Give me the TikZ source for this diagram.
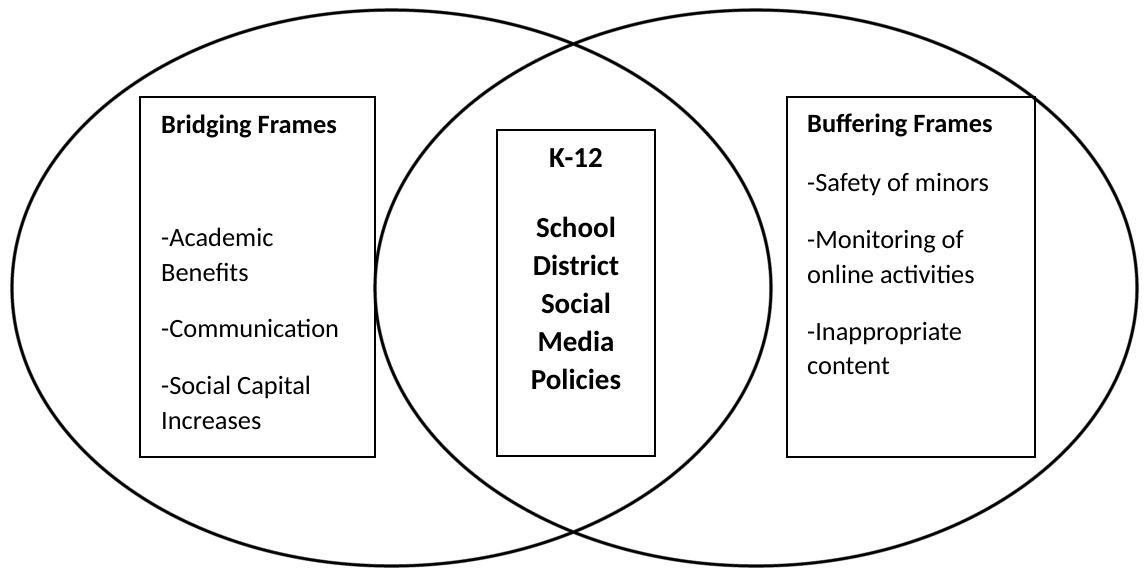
\documentclass[tikz,border=0pt]{standalone}
\usepackage{fontspec}
\setmainfont{Carlito}
\usetikzlibrary{shapes.geometric}
\begin{document}
\begin{tikzpicture}[x=1pt,y=-1pt,
  setring/.style={ellipse, draw=black, line width=2.4pt, inner sep=0pt, outer sep=0pt},
  setcore/.style={ellipse, draw=black!55, line width=3.6pt, inner sep=0pt, outer sep=0pt},
  framebox/.style={rectangle, draw=black, line width=1.4pt, inner sep=0pt, outer sep=0pt},
  item/.style={anchor=base west, inner sep=0pt, font=\fontsize{26.4}{34}\selectfont},
  head/.style={item, font=\fontsize{26.4}{34}\selectfont\bfseries},
  core/.style={anchor=base, inner sep=0pt, font=\fontsize{29}{38}\selectfont\bfseries}]
  \useasboundingbox (0,0) rectangle (1144,571);
  % the two overlapping sets (soft grey halo under a black stroke)
  \node[setcore, minimum width=759pt, minimum height=556pt] (lefthalo) at (391.5,288) {};
  \node[setcore, minimum width=762pt, minimum height=556pt] (righthalo) at (756,288) {};
  \node[setring, minimum width=759pt, minimum height=556pt] (leftset) at (391.5,288) {};
  \node[setring, minimum width=762pt, minimum height=556pt] (rightset) at (756,288) {};
  % frames
  \node[framebox, minimum width=235pt, minimum height=360pt] (bridgebox) at (257.5,277) {};
  \node[framebox, minimum width=158pt, minimum height=326pt] (corebox) at (576,293) {};
  \node[framebox, minimum width=248pt, minimum height=360pt] (bufferbox) at (911,277) {};
  % bridging frames
  \node[head] (bh) at (161,133) {Bridging Frames};
  \node[item] (b1) at (161,246) {-Academic};
  \node[item] (b1b) at (161,281) {Benefits};
  \node[item] (b2) at (161,337) {-Communication};
  \node[item] (b3) at (161,394) {-Social Capital};
  \node[item] (b3b) at (161,429) {Increases};
  % policies in the overlap
  \node[core] (c0) at (576,167) {K-12};
  \node[core] (c1) at (576,237) {School};
  \node[core] (c2) at (576,275) {District};
  \node[core] (c3) at (576,313) {Social};
  \node[core] (c4) at (576,351) {Media};
  \node[core] (c5) at (576,389) {Policies};
  % buffering frames
  \node[head] (fh) at (807,132) {Buffering Frames};
  \node[item] (f1) at (807,191) {-Safety of minors};
  \node[item] (f2) at (807,248) {-Monitoring of};
  \node[item] (f2b) at (807,283) {online activities};
  \node[item] (f3) at (807,340) {-Inappropriate};
  \node[item] (f3b) at (807,374) {content};
\end{tikzpicture}
\end{document}
